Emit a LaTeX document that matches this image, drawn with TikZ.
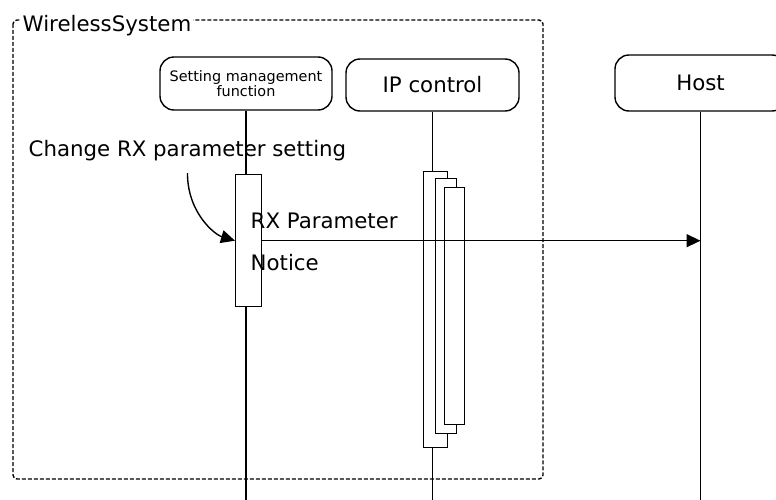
\documentclass[tikz,border=0pt]{standalone}
\usepackage{fontspec}
\setmainfont{DejaVu Sans}
\usetikzlibrary{arrows.meta,positioning}

\begin{document}
\begin{tikzpicture}[x=1pt,y=-1pt,line width=1.4pt,>={Triangle[length=14pt,width=13pt]}]
				\tikzstyle{lifehead}=[draw,rounded corners=14pt,inner sep=0pt,align=center,font=\fontsize{21.3}{25}\selectfont]
				\tikzstyle{actbox}=[draw,fill=white,inner sep=0pt,anchor=north west]
				\tikzstyle{lbl}=[inner sep=0pt,anchor=base west,font=\fontsize{21.3}{25}\selectfont]
				\useasboundingbox (0,0) rectangle (776,500);
				%Frame
				\draw[dash pattern=on 4pt off 2pt,rounded corners=4pt] (13,20) rectangle (543,479);
				\node[lbl,fill=white,inner xsep=2pt,inner ysep=3pt](ws) at (20,31.5){WirelessSystem};
				%Heads
				\node[lifehead,minimum width=172pt,minimum height=53pt,font=\fontsize{14.4}{15.5}\selectfont](smf) at (246,83.5){Setting management\\function};
				\node[lifehead,minimum width=173pt,minimum height=52pt](ipc) at (432.5,85){IP control};
				\node[lifehead,minimum width=171pt,minimum height=56pt](host) at (700.5,83){Host};
				%Lifelines
				\coordinate (smf end) at (smf.south |- 0,500);
				\coordinate (ipc end) at (ipc.south |- 0,500);
				\coordinate (host end) at (host.south |- 0,500);
				\draw (smf.south) -- (smf end);
				\draw (ipc.south) -- (ipc end);
				\draw (host.south) -- (host end);
				%Activations
				\node[actbox,minimum width=25.7pt,minimum height=132pt](smf act) at (235,174){};
				\node[actbox,minimum width=24pt,minimum height=276pt](ipc act1) at (422.5,171){};
				\node[actbox,minimum width=20.5pt,minimum height=255pt](ipc act2) at (435,178){};
				\node[actbox,minimum width=20pt,minimum height=237pt](ipc act3) at (444,187){};
				%Messages
				\node[lbl](chg) at (28,157){Change RX parameter setting};
				\node[lbl](rxp) at (250,228){RX Parameter};
				\node[lbl](ntc) at (250,270){Notice};
				\draw[->] ([yshift=-11pt]chg.south) .. controls +(0,40) and +(-20,-6) .. (smf act.west);
				\draw[->] (smf act.east) -- (smf act.east -| host.south);
\end{tikzpicture}
\end{document}
